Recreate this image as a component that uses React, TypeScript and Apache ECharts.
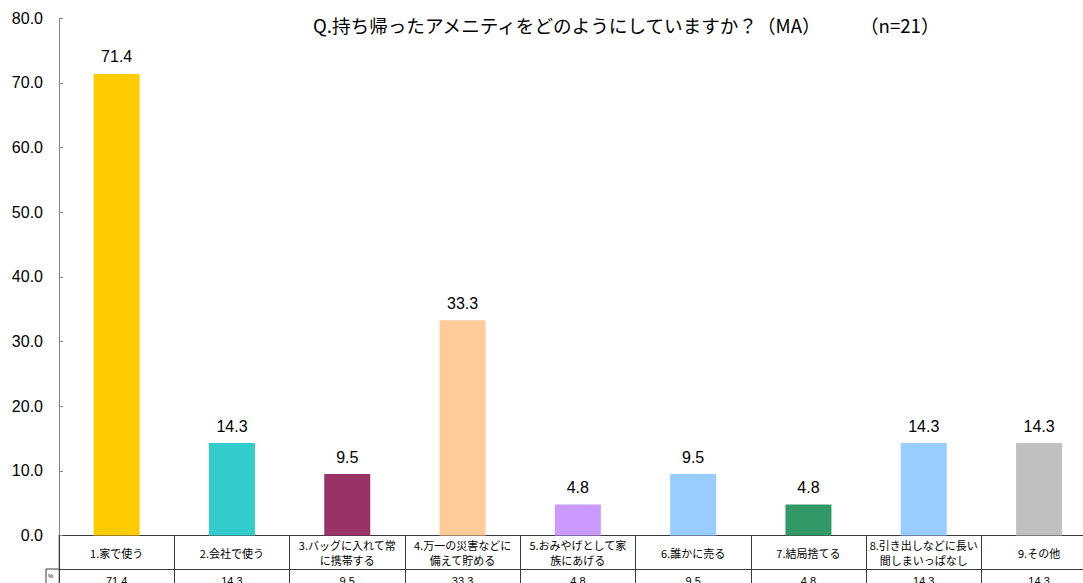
import React, { useEffect, useRef } from "react";
import * as echarts from "echarts";

const categories = [
  "1.家で使う",
  "2.会社で使う",
  "3.バッグに入れて常\nに携帯する",
  "4.万一の災害などに\n備えて貯める",
  "5.おみやげとして家\n族にあげる",
  "6.誰かに売る",
  "7.結局捨てる",
  "8.引き出しなどに長い\n間しまいっぱなし",
  "9.その他",
];
const values = [71.4, 14.3, 9.5, 33.3, 4.8, 9.5, 4.8, 14.3, 14.3];
const barColors = [
  "#FFCC00",
  "#33CCCC",
  "#993366",
  "#FFCC99",
  "#CC99FF",
  "#99CCFF",
  "#339966",
  "#99CCFF",
  "#C0C0C0",
];
const yTicks = { min: 0, max: 80, interval: 10 };
const titleMain = "Q.持ち帰ったアメニティをどのようにしていますか？（MA）";
const titleN = "（n=21）";

const CJK = "'Noto Sans CJK JP', sans-serif";
const LAT = "'Liberation Sans', Arial, sans-serif";
const TABLE = "#3a3a3a";
const AXIS = "#868686";

export default function App() {
  const ref = useRef<HTMLDivElement>(null);
  useEffect(() => {
    if (!ref.current) return;
    const chart = echarts.init(ref.current, null, { renderer: "svg" });
    const W = 1110;
    const H = 620;
    const left = 59;
    const top = 18.3;
    const bottomY = 535.5;
    const catW = 115.3;
    const rowH = 33.5;
    chart.setOption({
      animation: false,
      backgroundColor: "#ffffff",
      title: [
        {
          text: titleMain,
          left: 308,
          top: 10,
          textStyle: { fontFamily: CJK, fontSize: 18.6, fontWeight: "normal", color: "#000" },
        },
        {
          text: titleN,
          left: 855,
          top: 10,
          textStyle: { fontFamily: CJK, fontSize: 18.6, fontWeight: "normal", color: "#000" },
        },
      ],
      grid: {
        left,
        top,
        right: W - (left + catW * 9),
        bottom: H - bottomY,
        containLabel: false,
      },
      xAxis: [
        {
          type: "category",
          data: categories,
          position: "bottom",
          axisLine: { show: true, lineStyle: { color: TABLE, width: 1 } },
          axisTick: { show: true, inside: false, length: rowH, lineStyle: { color: TABLE } },
          axisLabel: {
            interval: 0,
            margin: 17,
            verticalAlign: "middle",
            lineHeight: 14.5,
            fontSize: 11,
            color: "#000",
            fontFamily: CJK,
          },
          splitLine: { show: false },
        },
        {
          type: "category",
          data: values.map((v) => v.toFixed(1)),
          position: "bottom",
          offset: rowH,
          axisLine: { show: true, lineStyle: { color: TABLE, width: 1 } },
          axisTick: { show: true, inside: false, length: 50, lineStyle: { color: TABLE } },
          axisLabel: {
            interval: 0,
            margin: 6,
            verticalAlign: "top",
            fontSize: 11,
            color: "#000",
            fontFamily: LAT,
          },
          splitLine: { show: false },
        },
      ],
      yAxis: {
        type: "value",
        min: yTicks.min,
        max: yTicks.max,
        interval: yTicks.interval,
        axisLine: { show: true, lineStyle: { color: AXIS } },
        axisTick: { show: true, inside: true, length: 4, lineStyle: { color: AXIS } },
        splitLine: { show: false },
        axisLabel: {
          margin: 16,
          fontSize: 16,
          color: "#000",
          fontFamily: LAT,
          formatter: (v: number) => v.toFixed(1),
        },
      },
      graphic: [
        {
          type: "line",
          shape: { x1: 46, y1: bottomY + rowH, x2: left, y2: bottomY + rowH },
          style: { stroke: TABLE, lineWidth: 1 },
        },
        {
          type: "line",
          shape: { x1: 46, y1: bottomY + rowH, x2: 46, y2: H },
          style: { stroke: TABLE, lineWidth: 1 },
        },
        {
          type: "line",
          shape: { x1: left, y1: bottomY, x2: left, y2: H },
          style: { stroke: AXIS, lineWidth: 1 },
        },
        {
          type: "text",
          left: 48,
          top: bottomY + rowH + 4,
          style: { text: "%", fontSize: 6, fill: "#000", fontFamily: LAT },
        },
      ],
      series: [
        {
          type: "bar",
          xAxisIndex: 0,
          yAxisIndex: 0,
          barWidth: 46,
          data: values.map((v, i) => ({ value: v, itemStyle: { color: barColors[i] } })),
          label: {
            show: true,
            position: "top",
            distance: 9,
            fontSize: 16,
            color: "#000",
            fontFamily: LAT,
            formatter: (p: any) => Number(p.value).toFixed(1),
          },
        },
      ],
    });
    return () => chart.dispose();
  }, []);
  return (
    <div
      style={{
        position: "absolute",
        left: 0,
        top: 0,
        width: 1083,
        height: 583,
        overflow: "hidden",
        background: "#fff",
      }}
    >
      <div ref={ref} style={{ width: 1110, height: 620 }} />
    </div>
  );
}
